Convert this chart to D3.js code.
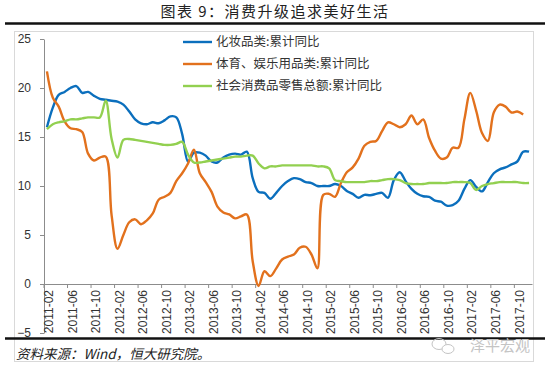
<!DOCTYPE html>
<html>
<head>
<meta charset="utf-8">
<script src="https://cdn.jsdelivr.net/npm/d3@7"></script>
<style>
  body { margin: 0; background: #fff; }
  svg { display: block; }
  .axis text { font-family: "Liberation Sans", Arial, sans-serif; font-size: 12px; fill: #333; }
  .axis path, .axis line { stroke: #8c8c8c; }
</style>
</head>
<body>
<div id="chart"></div>
<script>
// monthly categories, 2011-02 .. 2017-12
const months = d3.timeMonth.range(new Date(2011, 1, 1), new Date(2018, 0, 1));
const tickLabels = ["2011-02","2011-06","2011-10","2012-02","2012-06","2012-10","2013-02","2013-06","2013-10",
  "2014-02","2014-06","2014-10","2015-02","2015-06","2015-10","2016-02","2016-06","2016-10","2017-02","2017-06","2017-10"];
const yTicks = [-5, 0, 5, 10, 15, 20, 25];

// 化妆品类:累计同比
const cosmetics = [16.0,18.0,19.3,19.6,20.0,20.2,19.5,19.6,19.2,18.9,18.8,18.7,18.6,18.3,17.6,16.8,16.4,16.3,16.5,16.4,
  16.7,17.1,17.0,15.3,12.5,13.4,13.4,13.1,12.5,12.4,12.9,13.2,13.3,13.2,13.5,10.8,9.4,9.3,8.7,9.3,
  10.0,10.5,10.8,10.7,10.4,10.3,10.0,10.0,10.0,10.2,10.0,9.5,9.2,8.8,9.1,9.05,9.2,9.3,8.8,10.6,
  11.4,10.5,9.7,9.2,8.95,8.9,8.5,8.4,8.0,8.05,8.5,9.7,10.6,9.9,9.45,10.4,11.3,11.7,11.9,12.2,
  12.5,13.5,13.5];
// 体育、娱乐用品类:累计同比
const sports = [21.7,19.0,18.1,16.6,15.9,15.8,15.5,13.3,12.6,12.9,13.0,7.0,3.6,5.0,6.3,6.6,6.1,6.5,7.2,8.6,
  8.9,9.3,10.5,11.3,12.3,13.7,11.3,10.4,9.4,7.9,7.3,7.1,6.7,6.9,7.1,2.3,-0.2,1.3,0.8,1.6,
  2.5,2.8,3.0,3.7,3.8,3.0,1.6,9.1,9.2,8.9,10.3,11.4,11.9,12.8,14.1,14.5,14.6,15.6,16.5,16.3,
  16.0,16.3,17.2,16.3,16.8,14.9,13.6,12.8,12.9,13.9,13.9,16.8,19.5,17.7,15.4,14.6,17.5,18.3,18.1,17.5,
  17.6,17.3,null];
// 社会消费品零售总额:累计同比
const retail = [15.8,16.3,16.5,16.6,16.8,16.8,16.9,17.0,17.0,17.0,18.7,14.8,12.9,14.7,14.8,14.7,14.6,14.5,14.4,14.3,
  14.2,14.2,14.3,14.5,13.2,12.4,12.4,12.5,12.6,12.7,12.8,12.9,13.0,13.0,13.1,13.1,12.3,11.8,12.0,12.0,
  12.1,12.1,12.1,12.1,12.1,12.1,12.0,12.0,11.8,10.6,10.5,10.4,10.4,10.4,10.4,10.5,10.5,10.6,10.7,10.7,
  10.6,10.3,10.2,10.2,10.2,10.3,10.3,10.3,10.3,10.4,10.4,10.4,10.3,9.6,10.0,10.2,10.3,10.4,10.4,10.4,
  10.4,10.3,10.3];

const series = [
  { name: "化妆品类:累计同比", values: cosmetics, color: "#0b6fbd" },
  { name: "体育、娱乐用品类:累计同比", values: sports, color: "#e2711d" },
  { name: "社会消费品零售总额:累计同比", values: retail, color: "#92d050" }
];

const W = 550, H = 368;
const fmt = d3.timeFormat("%Y-%m");
const keys = months.map(fmt);

const svg = d3.select("#chart").append("svg")
  .attr("width", W)
  .attr("height", H);

// title + rules
svg.append("text")
  .attr("x", 275).attr("y", 17)
  .attr("text-anchor", "middle")
  .style("font-family", "'Noto Sans CJK SC', sans-serif")
  .style("font-size", "15px")
  .style("letter-spacing", "1.5px")
  .attr("fill", "#222")
  .text("图表 9：消费升级追求美好生活");

svg.append("line")
  .attr("x1", 5).attr("x2", 545).attr("y1", 23.5).attr("y2", 23.5)
  .attr("stroke", "#111").attr("stroke-width", 2.5);

// chart area border
svg.append("rect")
  .attr("x", 14.5).attr("y", 31.5).attr("width", 519).attr("height", 330)
  .attr("fill", "none").attr("stroke", "#d9d9d9");

const x = d3.scaleBand()
  .domain(keys)
  .range([44, 532]);
const bw = x.bandwidth();

const y = d3.scaleLinear()
  .domain([-5, 25])
  .range([333, 39]);

// y axis
svg.append("g")
  .attr("class", "axis")
  .attr("transform", "translate(44,0)")
  .call(d3.axisLeft(y).tickValues(yTicks).tickSize(4).tickSizeOuter(0).tickPadding(9));

// x axis at zero
const xAxis = svg.append("g")
  .attr("class", "axis")
  .attr("transform", "translate(0," + y(0) + ")")
  .call(d3.axisBottom(x).tickValues(tickLabels).tickSize(4).tickSizeOuter(0));

xAxis.selectAll(".tick line")
  .attr("x1", -bw / 2).attr("x2", -bw / 2);

xAxis.selectAll(".tick text")
  .attr("transform", "rotate(-90)")
  .attr("text-anchor", "end")
  .attr("x", -6)
  .attr("y", 2)
  .attr("dy", "0.35em");

// lines
const line = d3.line()
  .defined(d => d.v != null)
  .x(d => x(d.k) + bw / 2)
  .y(d => y(d.v))
  .curve(d3.curveCatmullRom.alpha(0.5));

series.forEach(s => {
  svg.append("path")
    .datum(keys.map((k, i) => ({ k: k, v: s.values[i] })))
    .attr("fill", "none")
    .attr("stroke", s.color)
    .attr("stroke-width", 2.4)
    .attr("stroke-linejoin", "round")
    .attr("d", line);
});

// legend
const legend = svg.append("g").attr("transform", "translate(183,42)");
series.forEach((s, i) => {
  const g = legend.append("g").attr("transform", "translate(0," + (i * 22) + ")");
  g.append("line")
    .attr("x1", 0).attr("x2", 29).attr("y1", 0).attr("y2", 0)
    .attr("stroke", s.color).attr("stroke-width", 2.4);
  g.append("text")
    .attr("x", 33).attr("y", 0).attr("dy", "0.35em")
    .style("font-family", "'Noto Sans CJK SC', sans-serif")
    .style("font-size", "12.5px")
    .attr("fill", "#333")
    .text(s.name);
});

// bottom rule + source
svg.append("line")
  .attr("x1", 5).attr("x2", 545).attr("y1", 338.5).attr("y2", 338.5)
  .attr("stroke", "#111").attr("stroke-width", 2.5);

svg.append("text")
  .attr("x", 16).attr("y", 359)
  .style("font-family", "'Noto Sans CJK SC', sans-serif")
  .style("font-size", "13.5px")
  .style("font-style", "italic")
  .attr("fill", "#222")
  .text("资料来源：Wind，恒大研究院。");

// watermark: chat bubbles + name
const wm = svg.append("g").attr("fill", "none").attr("stroke", "#c4c4c4").attr("stroke-width", 1);
wm.append("ellipse").attr("cx", 439).attr("cy", 344).attr("rx", 7).attr("ry", 5.5);
wm.append("ellipse").attr("cx", 448).attr("cy", 349).attr("rx", 6).attr("ry", 4.5).attr("fill", "#fff");

svg.append("text")
  .attr("x", 530).attr("y", 351)
  .attr("text-anchor", "end")
  .style("font-family", "'Noto Sans CJK SC', sans-serif")
  .style("font-size", "15px")
  .attr("fill", "#c4c4c4")
  .text("泽平宏观");
</script>
</body>
</html>
